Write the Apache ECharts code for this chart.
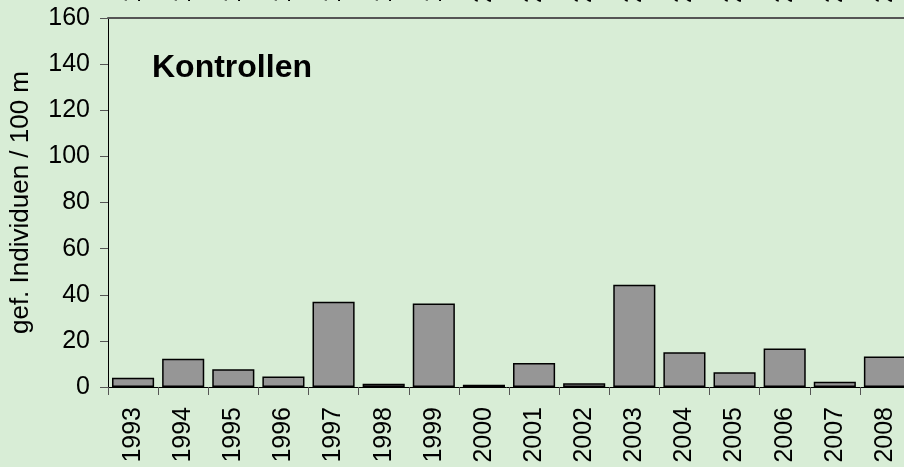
<!DOCTYPE html>
<html>
<head>
<meta charset="utf-8">
<script src="https://cdn.jsdelivr.net/npm/echarts@6/dist/echarts.min.js"></script>
<style>
html,body{margin:0;padding:0;background:#d8edd6;}
#c{width:904px;height:467px;}
</style>
</head>
<body>
<div id="c"></div>
<script>
const years = ['1993','1994','1995','1996','1997','1998','1999','2000','2001','2002','2003','2004','2005','2006','2007','2008'];
const values = [4, 12.3, 7.7, 4.5, 37, 1.4, 36.2, 1, 10.4, 1.6, 44.3, 15.1, 6.4, 16.7, 2.3, 13.2];
const yTicks = [0, 20, 40, 60, 80, 100, 120, 140, 160];
const titleText = 'Kontrollen';
const yName = 'gef. Individuen / 100 m';

const FONT = '"Liberation Sans", Arial, sans-serif';
const chart = echarts.init(document.getElementById('c'), null, {renderer: 'canvas'});
chart.setOption({
  backgroundColor: '#d8edd6',
  animation: false,
  title: {
    text: titleText,
    left: 147, top: 47,
    textStyle: {fontFamily: FONT, fontSize: 32, fontWeight: 'bold', color: '#000'}
  },
  grid: {left: 108, top: 18, width: 802, height: 369, containLabel: false, outerBoundsMode: 'none'},
  xAxis: [{
    type: 'category',
    data: years,
    position: 'bottom',
    axisLine: {lineStyle: {color: '#000', width: 1}},
    axisTick: {show: true, alignWithLabel: false, length: 8, lineStyle: {color: '#555', width: 1}},
    axisLabel: {rotate: 90, margin: 20, interval: 0, fontFamily: FONT, fontSize: 25, color: '#000'}
  }, {
    type: 'category',
    data: years,
    position: 'top',
    axisLine: {show: true, lineStyle: {color: '#555', width: 2}},
    axisTick: {show: false},
    axisLabel: {rotate: -90, margin: 15, interval: 0, fontFamily: FONT, fontSize: 25, color: '#000'}
  }],
  yAxis: {
    type: 'value',
    min: 0, max: yTicks[yTicks.length - 1], interval: 20,
    name: yName,
    nameLocation: 'middle',
    nameGap: 74,
    nameTextStyle: {fontFamily: FONT, fontSize: 26, color: '#000'},
    axisLine: {show: true, lineStyle: {color: '#000', width: 1}},
    axisTick: {show: true, length: 8, lineStyle: {color: '#555', width: 1}},
    axisLabel: {margin: 18, fontFamily: FONT, fontSize: 25, color: '#000'},
    splitLine: {show: false}
  },
  series: [{
    type: 'bar',
    data: values,
    barCategoryGap: '16%',
    itemStyle: {color: '#969696', borderColor: '#000', borderWidth: 1.5}
  }]
});
</script>
</body>
</html>
